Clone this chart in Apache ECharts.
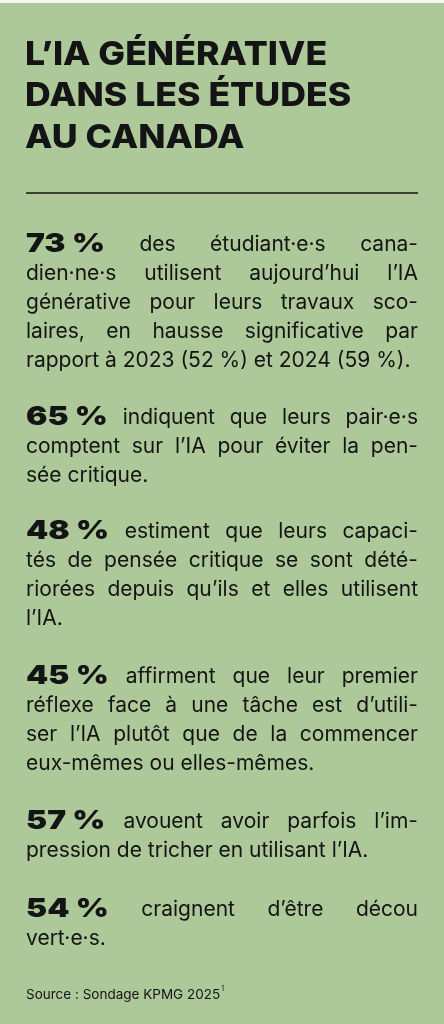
<!DOCTYPE html>
<html>
<head>
<meta charset="utf-8">
<script src="https://cdn.jsdelivr.net/npm/echarts@6/dist/echarts.min.js"></script>
<style>
  html, body { margin: 0; padding: 0; background: #fff; }
  #chart { width: 444px; height: 1024px; }
</style>
</head>
<body>
<div id="chart"></div>
<script>
// Titre
const titleLines = ['L’IA GÉNÉRATIVE', 'DANS LES ÉTUDES', 'AU CANADA'];

// Pourcentages mis en avant
const stats = [73, 65, 48, 45, 57, 54];

// Texte de chaque paragraphe, ligne par ligne (la 1re ligne suit le pourcentage)
const paragraphs = [
  ['des étudiant·e·s cana-', 'dien·ne·s utilisent aujourd’hui l’IA', 'générative pour leurs travaux sco-', 'laires, en hausse significative par', 'rapport à 2023 (52 %) et 2024 (59 %).'],
  ['indiquent que leurs pair·e·s', 'comptent sur l’IA pour éviter la pen-', 'sée critique.'],
  ['estiment que leurs capaci-', 'tés de pensée critique se sont dété-', 'riorées depuis qu’ils et elles utilisent', 'l’IA.'],
  ['affirment que leur premier', 'réflexe face à une tâche est d’utili-', 'ser l’IA plutôt que de la commencer', 'eux-mêmes ou elles-mêmes.'],
  ['avouent avoir parfois l’im-', 'pression de tricher en utilisant l’IA.'],
  ['craignent d’être décou', 'vert·e·s.']
];

const source = 'Source : Sondage KPMG 2025';

const LEFT = 26;
const RIGHT = 418;
const INK = '#141414';
const BODY_FONT = '400 21px Inter, "Noto Sans", sans-serif';
const STAT_FONT = '900 26px Inter, "Noto Sans", sans-serif';
const STAT_SCALE = 1.22;
const TITLE_FONT = '800 33px Inter, "Liberation Sans", sans-serif';
const TITLE_SCALE = 1.08;
const paraTops = [245, 418, 532, 677, 822, 910];
const LINE_H = 28.8;

const ctx = document.createElement('canvas').getContext('2d');
function measure(text, font) {
  ctx.font = font;
  return ctx.measureText(text).width;
}

function textEl(x, y, text, font, scale) {
  return {
    type: 'text', x, y, scaleX: scale || 1,
    style: { text, font, fill: INK, textVerticalAlign: 'middle', textAlign: 'left' }
  };
}

const elements = [];

titleLines.forEach((t, i) => {
  elements.push(textEl(LEFT - 1, 55 + i * 41.5, t, TITLE_FONT, TITLE_SCALE));
});

elements.push({
  type: 'line',
  shape: { x1: LEFT, y1: 193, x2: RIGHT, y2: 193 },
  style: { stroke: INK, lineWidth: 1.3 }
});

paragraphs.forEach((lines, p) => {
  lines.forEach((line, li) => {
    const y = paraTops[p] + li * LINE_H;
    const tokens = line.split(' ').map(w => ({ text: w, font: BODY_FONT, scale: 1 }));
    if (li === 0) tokens.unshift({ text: stats[p] + ' %', font: STAT_FONT, scale: STAT_SCALE });
    const widths = tokens.map(t => measure(t.text, t.font) * t.scale);
    const total = widths.reduce((a, b) => a + b, 0);
    const last = li === lines.length - 1;
    const gap = (!last && tokens.length > 1)
      ? (RIGHT - LEFT - total) / (tokens.length - 1)
      : measure(' ', BODY_FONT);
    let x = LEFT;
    tokens.forEach((t, k) => {
      elements.push(textEl(x, y + (t.scale !== 1 ? -1 : 0), t.text, t.font, t.scale));
      x += widths[k] + gap;
    });
  });
});

const SRC_FONT = '400 13.5px Inter, "Liberation Sans", sans-serif';
elements.push(textEl(LEFT, 995, source, SRC_FONT));
elements.push(textEl(LEFT + measure(source, SRC_FONT) + 1, 989, '1', '400 7px Inter, sans-serif'));

const chart = echarts.init(document.getElementById('chart'), null, { renderer: 'canvas' });
chart.setOption({
  backgroundColor: '#adc99a',
  graphic: [
    { type: 'rect', shape: { x: 0, y: 0, width: 444, height: 3 }, style: { fill: '#f4f6f2' } },
    ...elements
  ]
});
</script>
</body>
</html>
